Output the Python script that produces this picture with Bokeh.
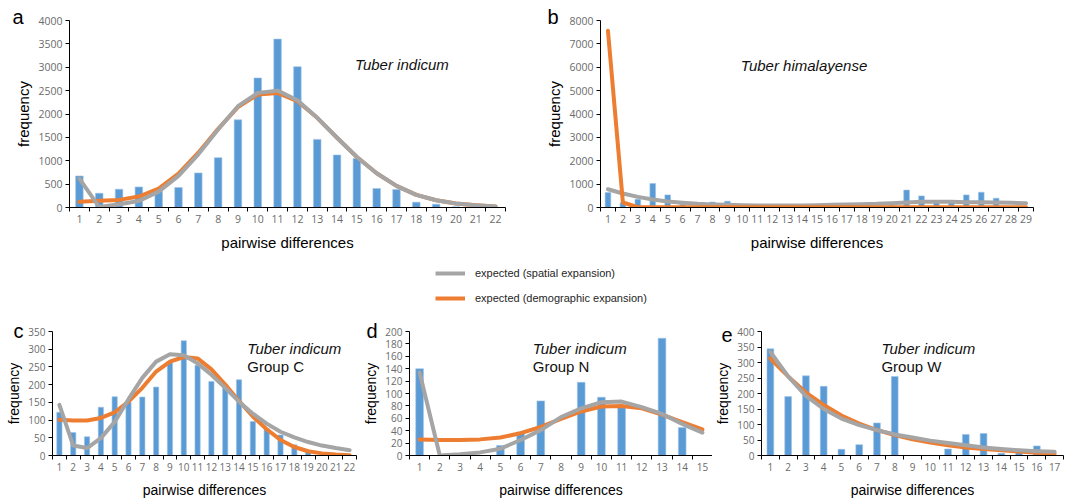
from bokeh.plotting import figure
from bokeh.models import Range1d, FixedTicker, Legend, LegendItem
from bokeh.core.properties import value
from bokeh.layouts import column, row
from bokeh.embed import file_html
from bokeh.resources import INLINE

BLUE = "#5B9BD5"
ORANGE = "#ED7D31"
GRAY = "#A5A5A5"

# ---------------- data ----------------
a_obs = [675, 305, 391, 440, 350, 426, 739, 1066, 1876, 2771, 3602, 3012, 1457, 1123, 1050, 405, 384, 114, 71, 15, 0, 0]
a_spatial = [618, 10, 70, 140, 340, 675, 1137, 1670, 2167, 2451, 2500, 2295, 1918, 1492, 1080, 732, 462, 270, 156, 85, 50, 21]
a_demo = [121, 142, 163, 234, 405, 725, 1172, 1684, 2146, 2416, 2451, 2274, 1918, 1492, 1080, 732, 462, 270, 156, 85, 50, 21]

b_obs = [639, 200, 355, 1023, 540, 142, 50, 230, 270, 0, 0, 0, 0, 0, 0, 0, 0, 0, 0, 100, 745, 497, 250, 200, 540, 653, 398, 0, 0]
b_spatial = [781, 597, 455, 341, 256, 199, 156, 128, 114, 99, 85, 85, 85, 85, 99, 114, 128, 142, 156, 185, 213, 241, 241, 241, 227, 227, 213, 199, 185]
b_demo = [7557, 213, 10, 10, 10, 10, 10, 10, 10, 10, 10, 10, 10, 10, 10, 10, 10, 10, 10, 10, 10, 10, 10, 10, 10, 10, 10, 10, 10]

c_obs = [122, 65, 53, 136, 166, 150, 165, 193, 262, 324, 255, 209, 200, 214, 96, 76, 58, 30, 10, 0, 0, 0]
c_spatial = [143, 28, 21, 49, 95, 159, 219, 265, 286, 283, 260, 228, 191, 152, 118, 90, 67, 51, 38, 28, 21, 15]
c_demo = [101, 99, 99, 106, 122, 152, 191, 237, 265, 278, 274, 243, 200, 154, 110, 74, 44, 24, 12, 6, 3, 1]

d_obs = [140, 0, 0, 0, 16, 38, 88, 0, 118, 94, 80, 0, 189, 45, 0]
d_spatial = [134, 0, 2, 5, 11, 25, 41, 62, 76, 86, 87, 78, 67, 51, 37]
d_demo = [26, 25, 25, 26, 29, 36, 46, 59, 71, 79, 80, 76, 66, 54, 42]

e_obs = [344, 190, 257, 223, 20, 35, 105, 255, 0, 0, 21, 68, 71, 7, 14, 31, 0]
e_spatial = [334, 255, 192, 150, 119, 98, 82, 68, 58, 48, 40, 33, 26, 21, 17, 14, 12]
e_demo = [313, 255, 203, 163, 129, 103, 82, 66, 52, 42, 33, 26, 21, 17, 13, 9, 6]

y_ticks_a = [0, 500, 1000, 1500, 2000, 2500, 3000, 3500, 4000]
y_ticks_b = [0, 1000, 2000, 3000, 4000, 5000, 6000, 7000, 8000]
y_ticks_c = [0, 50, 100, 150, 200, 250, 300, 350]
y_ticks_d = [0, 20, 40, 60, 80, 100, 120, 140, 160, 180, 200]
y_ticks_e = [0, 50, 100, 150, 200, 250, 300, 350, 400]

legend_labels = ["expected (spatial expansion)", "expected (demographic expansion)"]

SANS = "Liberation Sans"
TICKF = "Open Sans"


def panel(obs, spatial, demo, yticks, w, h, borders, tick_size, lab_size, letter, letter_off,
          letter_standoff, demo_on_top=False):
    n = len(obs)
    xs = list(range(1, n + 1))
    p = figure(width=w, height=h, output_backend="svg", toolbar_location=None,
               x_range=Range1d(0.5, n + 0.5), y_range=Range1d(yticks[0], yticks[-1]))
    p.min_border_left, p.min_border_right, p.min_border_top, p.min_border_bottom = borders
    p.outline_line_color = None
    p.grid.visible = False

    # panel letter as the plot title
    p.title.text = letter
    p.title.align = "left"
    p.title.vertical_align = "bottom"
    p.title.offset = letter_off
    p.title.standoff = letter_standoff
    p.title.text_font = SANS
    p.title.text_font_style = "normal"
    p.title.text_font_size = "20px"
    p.title.text_color = "black"

    p.vbar(x=xs, top=obs, width=0.38, fill_color=BLUE, line_color="#9DC3E6", line_width=0.6)
    if demo_on_top:
        p.line(xs, spatial, line_color=GRAY, line_width=4, line_join="round", line_cap="round")
        p.line(xs, demo, line_color=ORANGE, line_width=4, line_join="round", line_cap="round")
    else:
        p.line(xs, demo, line_color=ORANGE, line_width=4, line_join="round", line_cap="round")
        p.line(xs, spatial, line_color=GRAY, line_width=4, line_join="round", line_cap="round")

    xa = p.xaxis[0]
    xa.ticker = FixedTicker(ticks=xs, minor_ticks=[i + 0.5 for i in range(0, n + 1)])
    xa.major_tick_out = 0
    xa.major_tick_in = 0
    xa.minor_tick_out = 4
    xa.minor_tick_in = 0
    xa.minor_tick_line_color = "black"
    xa.axis_line_color = "black"
    xa.major_label_text_font = TICKF
    xa.major_label_text_font_size = tick_size
    xa.major_label_text_color = "#6b6b6b"
    xa.major_label_standoff = 3
    xa.axis_label = "pairwise differences"
    xa.axis_label_text_font = SANS
    xa.axis_label_text_font_style = "normal"
    xa.axis_label_text_font_size = lab_size
    xa.axis_label_text_color = "black"
    xa.axis_label_standoff = 8

    ya = p.yaxis[0]
    ya.ticker = FixedTicker(ticks=yticks)
    ya.minor_tick_line_color = None
    ya.major_tick_out = 4
    ya.major_tick_in = 0
    ya.major_tick_line_color = "black"
    ya.axis_line_color = "black"
    ya.major_label_text_font = TICKF
    ya.major_label_text_font_size = tick_size
    ya.major_label_text_color = "#6b6b6b"
    ya.major_label_standoff = 3
    ya.axis_label = "frequency"
    ya.axis_label_text_font = SANS
    ya.axis_label_text_font_style = "normal"
    ya.axis_label_text_font_size = lab_size
    ya.axis_label_text_color = "black"
    ya.axis_label_standoff = 3
    return p


def add_text(p, x, y, txt, style="italic", size="15px"):
    p.text(x=[x], y=[y], text=[txt], text_font=value(SANS), text_font_style=style,
           text_font_size=size, text_color="#111111", text_align="left",
           text_baseline="middle")


# top row
pa = panel(a_obs, a_spatial, a_demo, y_ticks_a, 530, 255, (69, 25, 20, 48), "10.5px", "15px", "a", -57, -15)
add_text(pa, 14.9, 3050, "Tuber indicum")

pb = panel(b_obs, b_spatial, b_demo, y_ticks_b, 545, 255, (70, 42, 20, 48), "10.5px", "15px", "b", -53, -15,
           demo_on_top=True)
add_text(pb, 9.9, 6095, "Tuber himalayense")

# legend strip
pl = figure(width=1075, height=60, output_backend="svg", toolbar_location=None,
            x_range=Range1d(0, 1), y_range=Range1d(0, 1), min_border=0)
pl.axis.visible = False
pl.grid.visible = False
pl.outline_line_color = None
nan = float("nan")
r1 = pl.line(x=[nan], y=[nan], line_color=GRAY, line_width=4)
r2 = pl.line(x=[nan], y=[nan], line_color=ORANGE, line_width=4)
leg = Legend(items=[LegendItem(label=legend_labels[0], renderers=[r1]),
                    LegendItem(label=legend_labels[1], renderers=[r2])],
             location=(435, 10), padding=0, margin=0, spacing=11,
             glyph_width=30, glyph_height=14, label_height=14, label_standoff=10,
             label_text_font=SANS, label_text_font_size="11px", label_text_color="#262626",
             border_line_color=None, background_fill_alpha=0)
pl.add_layout(leg, "center")

# bottom row
pc = panel(c_obs, c_spatial, c_demo, y_ticks_c, 360, 185, (52, 4, 16, 42), "10px", "14px", "c", -39, -21)
add_text(pc, 14.6, 303, "Tuber indicum")
add_text(pc, 14.6, 251, "Group C", style="normal")

pd = panel(d_obs, d_spatial, d_demo, y_ticks_d, 352, 185, (45, 0, 16, 42), "10px", "14px", "d", -43, -21)
add_text(pd, 6.6, 173, "Tuber indicum")
add_text(pd, 6.6, 143, "Group N", style="normal")

pe = panel(e_obs, e_spatial, e_demo, y_ticks_e, 363, 185, (44, 12, 16, 42), "10px", "14px", "e", -40, -21)
add_text(pe, 7.25, 346, "Tuber indicum")
add_text(pe, 7.25, 287, "Group W", style="normal")

layout = column(row(pa, pb, spacing=0), pl, row(pc, pd, pe, spacing=0), spacing=0)

open("out.html", "w").write(file_html(layout, INLINE))
